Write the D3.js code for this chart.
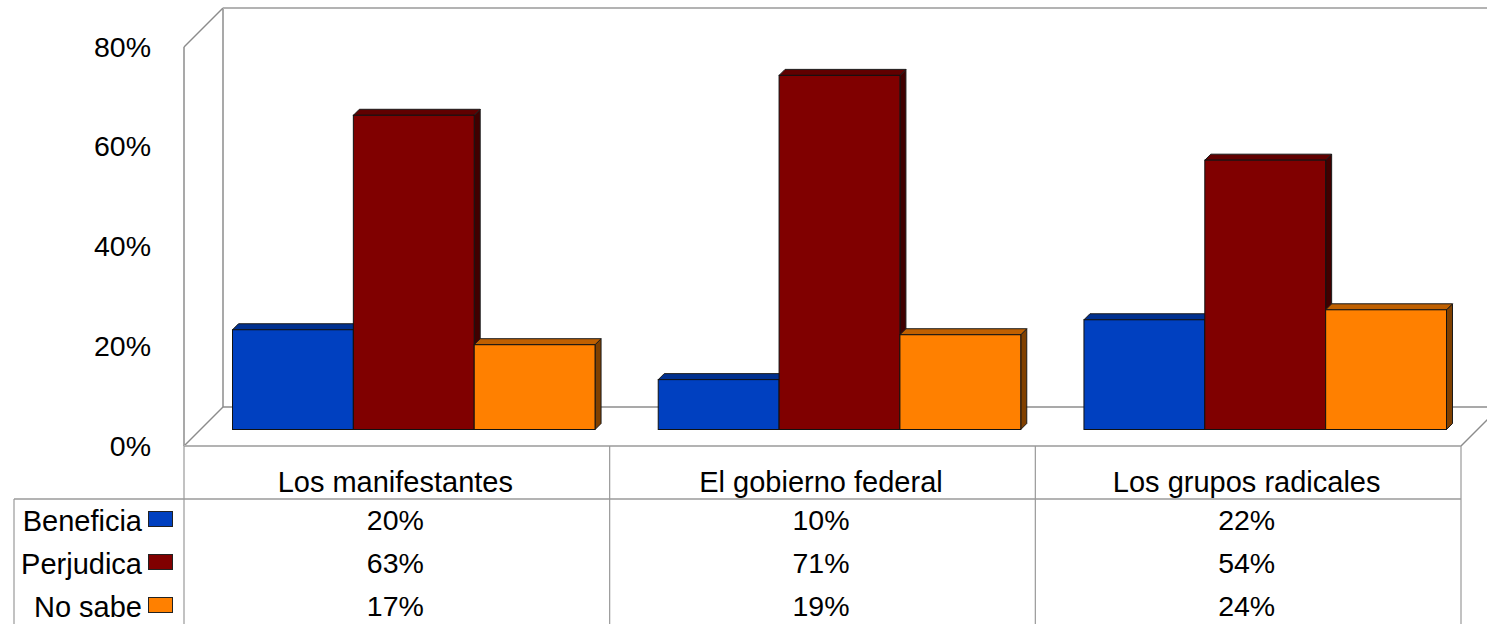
<!DOCTYPE html>
<html>
<head>
<meta charset="utf-8">
<script src="https://cdnjs.cloudflare.com/ajax/libs/d3/7.8.5/d3.min.js"></script>
<style>
html, body { margin: 0; padding: 0; background: #fff; overflow: hidden; }
svg { display: block; }
text { font-family: "Liberation Sans", Arial, sans-serif; fill: #000; }
.frame { stroke: #8c8c8c; fill: none; stroke-width: 1.5; }
.table { stroke: #b3b3b3; fill: none; stroke-width: 2; }
.table-v { stroke: #999; fill: none; stroke-width: 1.2; }
</style>
</head>
<body>
<svg width="1487" height="624"></svg>
<script>
var categories = ["Los manifestantes", "El gobierno federal", "Los grupos radicales"];
var seriesNames = ["Beneficia", "Perjudica", "No sabe"];
var beneficia = [20, 10, 22];
var perjudica = [63, 71, 54];
var noSabe = [17, 19, 24];
var yTicks = [0, 20, 40, 60, 80];

var seriesValues = [beneficia, perjudica, noSabe];
var front = ["#0040c0", "#800000", "#ff8000"];
var topFace = ["#003090", "#600000", "#c06000"];
var sideFace = ["#002060", "#400000", "#804000"];

var svg = d3.select("svg");

// plot box, front plane of the 3d walls
var plotLeft = 184, plotRight = 1461, plotTop = 47, plotBottom = 446, wall = 39;
var tableLeft = 14, rowLine = 499, depth = 6;
// bars stand on the middle of the floor
var barLift = 16.5;

var y = d3.scaleLinear().domain([0, 80]).range([plotBottom, plotTop]);
var x0 = d3.scaleBand().domain(categories).range([232.5, 1446.5]).paddingInner(0.1484);
var x1 = d3.scaleBand().domain(seriesNames).range([0, x0.bandwidth()]);

// walls
var frame = svg.append("g").attr("class", "frame");
function line(g, ax, ay, bx, by) {
	g.append("line").attr("x1", ax).attr("y1", ay).attr("x2", bx).attr("y2", by);
}
line(frame, plotLeft, plotTop, plotLeft, plotBottom);
line(frame, plotLeft + wall, plotTop - wall, plotLeft + wall, plotBottom - wall);
line(frame, plotLeft, plotTop, plotLeft + wall, plotTop - wall);
line(frame, plotLeft, plotBottom, plotLeft + wall, plotBottom - wall);
line(frame, plotRight, plotBottom, plotRight + wall, plotBottom - wall);
line(frame, plotLeft + wall, plotBottom - wall, plotRight + wall, plotBottom - wall);
svg.append("line").attr("class", "table")
	.attr("x1", plotLeft + wall).attr("y1", plotTop - wall).attr("x2", plotRight + wall).attr("y2", plotTop - wall);

// y axis
var yAxis = d3.axisLeft(y)
	.tickValues(yTicks)
	.tickSize(0)
	.tickPadding(33)
	.tickFormat(function(d) { return d + "%"; });
var gy = svg.append("g").attr("transform", "translate(" + plotLeft + ",0)").call(yAxis);
gy.select(".domain").remove();
gy.selectAll("text").style("font-size", "28.5px");

// bars
seriesNames.forEach(function(name, s) {
	var g = svg.append("g").attr("class", "series");
	var rows = categories.map(function(c, i) {
		var bx = x0(c) + x1(name);
		return { x: bx, x2: bx + x1.bandwidth(), y: y(seriesValues[s][i]) - barLift, base: y(0) - barLift };
	});
	g.selectAll(".side").data(rows).enter().append("polygon")
		.attr("class", "side")
		.attr("fill", sideFace[s]).attr("stroke", "#1a1a1a").attr("stroke-width", 1)
		.attr("points", function(d) {
			return [[d.x2, d.y], [d.x2 + depth, d.y - depth], [d.x2 + depth, d.base - depth], [d.x2, d.base]].join(" ");
		});
	g.selectAll(".top").data(rows).enter().append("polygon")
		.attr("class", "top")
		.attr("fill", topFace[s]).attr("stroke", "#1a1a1a").attr("stroke-width", 1)
		.attr("points", function(d) {
			return [[d.x, d.y], [d.x + depth, d.y - depth], [d.x2 + depth, d.y - depth], [d.x2, d.y]].join(" ");
		});
	g.selectAll(".front").data(rows).enter().append("rect")
		.attr("class", "front")
		.attr("x", function(d) { return d.x; })
		.attr("y", function(d) { return d.y; })
		.attr("width", x1.bandwidth())
		.attr("height", function(d) { return d.base - d.y; })
		.attr("fill", front[s]).attr("stroke", "#111").attr("stroke-width", 1);
});

// data table
var table = svg.append("g").attr("class", "table");
var tableV = svg.append("g").attr("class", "table-v");
var colStep = (plotRight - plotLeft) / categories.length;
line(table, plotLeft, plotBottom, plotRight, plotBottom);
line(table, tableLeft, rowLine, plotRight, rowLine);
line(tableV, tableLeft, rowLine, tableLeft, 624);
d3.range(categories.length + 1).forEach(function(i) {
	line(tableV, plotLeft + i * colStep, plotBottom, plotLeft + i * colStep, 624);
});

var rowY = [520.5, 563.5, 606.5];
var fontSize = "29px";
// text sits a little left of the column centre in the original
var textShift = -1.5;
svg.selectAll(".cat").data(categories).enter().append("text")
	.attr("class", "cat")
	.attr("x", function(d, i) { return plotLeft + (i + 0.5) * colStep + textShift; })
	.attr("y", 482)
	.attr("dy", "0.35em")
	.attr("text-anchor", "middle")
	.style("font-size", fontSize)
	.text(function(d) { return d; });

seriesNames.forEach(function(name, s) {
	svg.append("text")
		.attr("x", 142).attr("y", rowY[s]).attr("dy", "0.35em")
		.attr("text-anchor", "end")
		.style("font-size", fontSize)
		.text(name);
	svg.append("rect")
		.attr("x", 148.5).attr("y", Math.round(rowY[s]) - 9.5).attr("width", 24).attr("height", 15)
		.attr("fill", front[s]).attr("stroke", "#222").attr("stroke-width", 1);
	svg.selectAll(".cell" + s).data(seriesValues[s]).enter().append("text")
		.attr("class", "cell" + s)
		.attr("x", function(d, i) { return plotLeft + (i + 0.5) * colStep + textShift; })
		.attr("y", rowY[s]).attr("dy", "0.35em")
		.attr("text-anchor", "middle")
		.style("font-size", "28.5px")
		.text(function(d) { return d + "%"; });
});
</script>
</body>
</html>
